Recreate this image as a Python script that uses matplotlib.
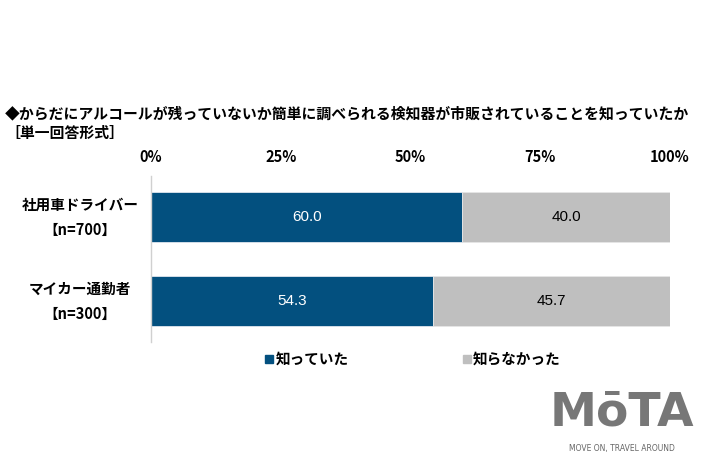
import matplotlib
matplotlib.use("Agg")
import matplotlib.pyplot as plt
import matplotlib.transforms as mtransforms
import numpy as np

plt.rcParams['font.family'] = ['Noto Sans CJK JP', 'DejaVu Sans']

categories = ["社用車ドライバー\n【n=700】", "マイカー通勤者\n【n=300】"]
knew = [60.0, 54.3]
didnt = [40.0, 45.7]
series_names = ["知っていた", "知らなかった"]
tick_labels = ["0%", "25%", "50%", "75%", "100%"]
title = "◆からだにアルコールが残っていないか簡単に調べられる検知器が市販されていることを知っていたか"
subtitle = "［単一回答形式］"

c_blue = "#03507f"
c_gray = "#bfbfbf"

fig = plt.figure(figsize=(7.1, 4.73), dpi=100)
ax = fig.add_axes([151/710, 1-342/473, (670-151)/710, (342-176)/473])

y = np.arange(len(categories))
h = 0.6
ax.barh(y, knew, height=h, color=c_blue, edgecolor="#dfe6ee", linewidth=0.6)
ax.barh(y, didnt, left=knew, height=h, color=c_gray, edgecolor="#e6e6e6", linewidth=0.6)

for i in range(len(categories)):
    ax.text(knew[i]/2, y[i], f"{knew[i]:.1f}", color="white", ha="center", va="center",
            fontsize=11, family=['Liberation Sans', 'DejaVu Sans'])
    ax.text(knew[i] + didnt[i]/2, y[i], f"{didnt[i]:.1f}", color="black", ha="center", va="center",
            fontsize=11, family=['Liberation Sans', 'DejaVu Sans'])

ax.set_xlim(0, 100)
ax.set_ylim(1.49, -0.49)
ax.set_xticks([0, 25, 50, 75, 100])
ax.set_xticklabels(tick_labels, fontsize=10.5, fontweight="bold")
ax.xaxis.tick_top()
ax.tick_params(axis="x", length=0, pad=8)
ax.set_yticks([])
trans = mtransforms.blended_transform_factory(fig.transFigure, ax.transData)
for i, cat in enumerate(categories):
    ax.text(80/710, y[i], cat, transform=trans, ha="center", va="center",
            fontsize=10.5, fontweight="bold", linespacing=1.7)
for s in ["top", "right", "bottom"]:
    ax.spines[s].set_visible(False)
ax.spines["left"].set_color("#d0d0d0")
ax.spines["left"].set_linewidth(1.0)

fig.text(5/710, 1-113/473, title, fontsize=10.7, fontweight="bold", va="center", ha="left")
fig.text(5/710, 1-133/473, subtitle, fontsize=10.7, fontweight="bold", va="center", ha="left")

# legend
fig.patches.append(plt.Rectangle((265/710, 1-363/473), 8/710, 8/473, transform=fig.transFigure,
                                 color=c_blue, figure=fig))
fig.text(276/710, 1-359/473, series_names[0], fontsize=10.5, fontweight="bold", va="center")
fig.patches.append(plt.Rectangle((463/710, 1-363/473), 8/710, 8/473, transform=fig.transFigure,
                                 color=c_gray, figure=fig))
fig.text(473/710, 1-359/473, series_names[1], fontsize=10.5, fontweight="bold", va="center")

# logo
fig.text(622/710, 1-413/473, "MōTA", fontsize=34, fontweight="bold", color="#777777",
         ha="center", va="center", family=['DejaVu Sans'])
fig.text(622/710, 1-448/473, "MOVE ON, TRAVEL AROUND", fontsize=5.5, color="#666666",
         ha="center", va="center", family=['DejaVu Sans'])

fig.savefig("out.png", dpi=100)
